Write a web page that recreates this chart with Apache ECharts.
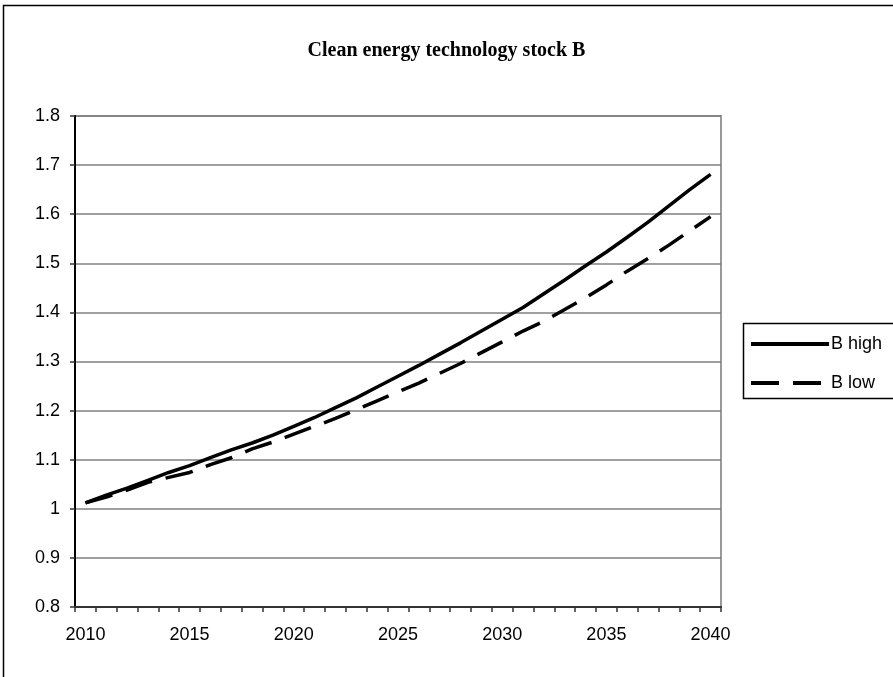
<!DOCTYPE html>
<html>
<head>
<meta charset="utf-8">
<script src="https://cdn.jsdelivr.net/npm/echarts@6/dist/echarts.min.js"></script>
<style>
  html, body { margin: 0; padding: 0; background: #fff; }
  #chart { width: 893px; height: 677px; }
</style>
</head>
<body>
<div id="chart"></div>
<script>
var years = [
    '2010', '2011', '2012', '2013', '2014', '2015', '2016', '2017', '2018', '2019',
    '2020', '2021', '2022', '2023', '2024', '2025', '2026', '2027', '2028', '2029',
    '2030', '2031', '2032', '2033', '2034', '2035', '2036', '2037', '2038', '2039', '2040'
];
var bHigh = [
    1.012, 1.028, 1.042, 1.058, 1.074, 1.088, 1.104, 1.120, 1.134, 1.150,
    1.168, 1.186, 1.206, 1.226, 1.248, 1.270, 1.292, 1.315, 1.338, 1.362,
    1.386, 1.410, 1.438, 1.466, 1.495, 1.523, 1.553, 1.584, 1.617, 1.650, 1.681
];
var bLow = [
    1.012, 1.024, 1.038, 1.054, 1.064, 1.074, 1.090, 1.104, 1.122, 1.136,
    1.152, 1.168, 1.184, 1.202, 1.220, 1.238, 1.256, 1.276, 1.296, 1.318,
    1.340, 1.362, 1.382, 1.406, 1.430, 1.456, 1.484, 1.510, 1.537, 1.566, 1.595
];
var seriesNames = ['B high', 'B low'];

var sans = 'Liberation Sans, Arial, sans-serif';

var option = {
    animation: false,
    backgroundColor: '#fff',
    title: {
        text: 'Clean energy technology stock B',
        left: 'center',
        top: 36,
        textStyle: {
            fontFamily: 'Liberation Serif, Times New Roman, serif',
            fontWeight: 'bold',
            fontSize: 20,
            color: '#000'
        }
    },
    legend: {
        orient: 'vertical',
        left: 749,
        top: 335,
        padding: 0,
        itemWidth: 78,
        itemHeight: 16,
        itemGap: 21,
        itemStyle: { opacity: 0 },
        lineStyle: { width: 4 },
        textStyle: { fontFamily: sans, fontSize: 18, color: '#000', padding: [0, 0, 0, -3] },
        data: seriesNames
    },
    graphic: [
        {
            type: 'rect',
            shape: { x: 3.5, y: 5.5, width: 920, height: 700 },
            style: { fill: 'none', stroke: '#000', lineWidth: 1.5 },
            silent: true
        },
        {
            type: 'rect',
            shape: { x: 743.5, y: 323.5, width: 200, height: 75 },
            style: { fill: 'none', stroke: '#000', lineWidth: 1.5 },
            silent: true
        }
    ],
    grid: {
        left: 75,
        top: 116,
        width: 646,
        height: 491,
        show: true,
        borderColor: '#999',
        borderWidth: 2
    },
    xAxis: {
        type: 'category',
        data: years,
        boundaryGap: true,
        axisLine: { lineStyle: { color: '#333', width: 2 } },
        axisTick: { show: true, interval: 0, length: 5, lineStyle: { color: '#333', width: 1.5 } },
        axisLabel: { interval: 4, margin: 19, fontFamily: sans, fontSize: 18, color: '#000' },
        splitLine: { show: false }
    },
    yAxis: {
        type: 'value',
        min: 0.8,
        max: 1.8,
        interval: 0.1,
        axisLine: { show: true, lineStyle: { color: '#000', width: 2 } },
        axisTick: { show: true, length: 5, lineStyle: { color: '#333', width: 1.5 } },
        axisLabel: {
            margin: 15,
            fontFamily: sans,
            fontSize: 18,
            color: '#000',
            formatter: function (v) { return String(Math.round(v * 10) / 10); }
        },
        splitLine: { lineStyle: { color: '#808080', width: 1.5 } }
    },
    series: [
        {
            name: seriesNames[0],
            type: 'line',
            data: bHigh,
            symbol: 'none',
            lineStyle: { color: '#000', width: 3.5, type: 'solid' },
            itemStyle: { color: '#000' }
        },
        {
            name: seriesNames[1],
            type: 'line',
            data: bLow,
            symbol: 'none',
            lineStyle: { color: '#000', width: 3.5, type: [28, 14] },
            itemStyle: { color: '#000' }
        }
    ]
};

var chart = echarts.init(document.getElementById('chart'));
chart.setOption(option);
</script>
</body>
</html>
